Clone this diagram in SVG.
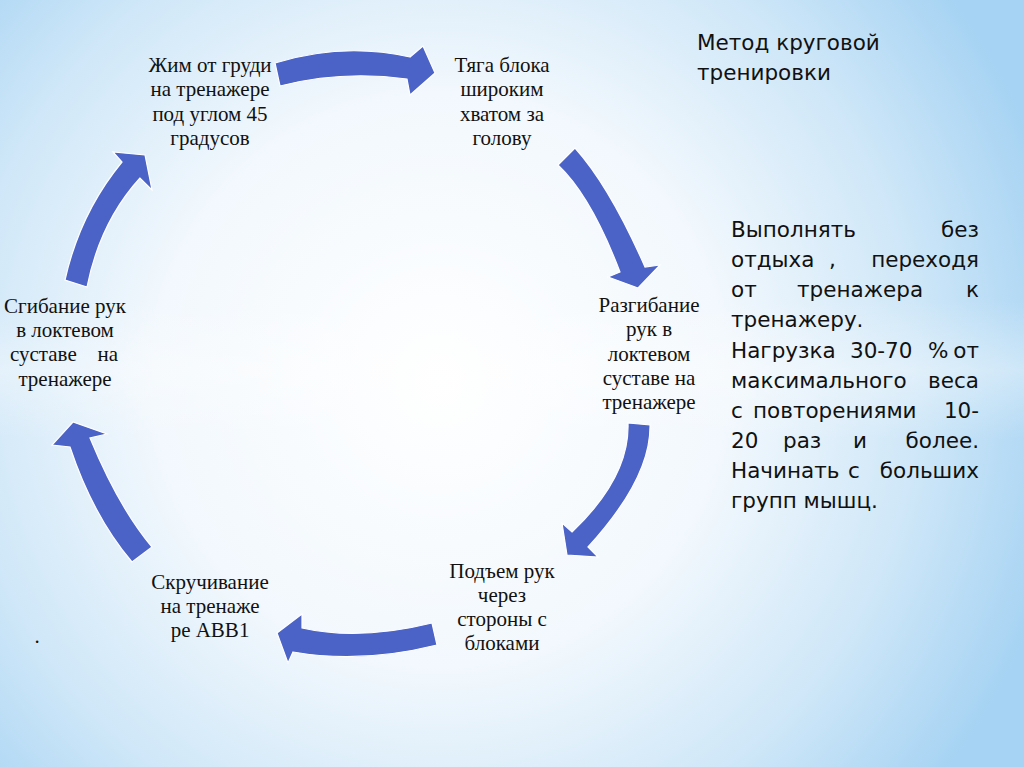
<svg xmlns="http://www.w3.org/2000/svg" width="1024" height="767" viewBox="0 0 1024 767">
<defs>
<radialGradient id="bg" cx="440" cy="380" r="640" gradientUnits="userSpaceOnUse">
<stop offset="0" stop-color="#ffffff"/>
<stop offset="0.45" stop-color="#f2f8fd"/>
<stop offset="0.75" stop-color="#cfe7f8"/>
<stop offset="1" stop-color="#a6d3f3"/>
</radialGradient>
<linearGradient id="band" x1="0" y1="0" x2="0" y2="1">
<stop offset="0" stop-color="#ffffff" stop-opacity="0"/>
<stop offset="0.5" stop-color="#ffffff" stop-opacity="0.35"/>
<stop offset="1" stop-color="#ffffff" stop-opacity="0"/>
</linearGradient>
<style>
.arr{fill:#4b62c6;stroke:#ffffff;stroke-width:1.2;stroke-linejoin:miter}
.n{font-family:"Liberation Serif","Times New Roman",serif;font-size:21px;fill:#111;text-anchor:middle}
.s{font-family:"DejaVu Sans","Noto Sans",sans-serif;font-size:21.5px;fill:#111}
.e{text-anchor:end}
</style>
</defs>
<rect width="1024" height="767" fill="url(#bg)"/>
<rect x="0" y="300" width="1024" height="140" fill="url(#band)"/>
<g id="connectors">
<path class="arr" d="M275,63 Q343,42 410,57 L423,46 L435,73 L410,95 L407,79 Q342,70 280,86 Z"/>
<path class="arr" d="M558,165 Q591,196 620,272 L608,277 L638,288 L660,265 L645,267 Q610,187 575,148 Z"/>
<path class="arr" d="M628,423 Q630,477 572,532 L562,523 L567,555 L598,557 L588,547 Q651,478 650,425 Z"/>
<path class="arr" d="M432,623 Q359,641 302,628 L302,614 L277,633 L288,663 L293,652 Q361,664 437,645 Z"/>
<path class="arr" d="M132,562 Q93,516 70,447 L52,445 L73,422 L107,434 L90,438 Q119,508 152,547 Z"/>
<path class="arr" d="M65,280 Q80,213 122,162 L113,152 L145,155 L152,190 L140,178 Q100,222 87,287 Z"/>
</g>
<g id="node1">
<text class="n" x="210" y="72">Жим от груди</text>
<text class="n" x="210" y="96">на тренажере</text>
<text class="n" x="210" y="121">под углом 45</text>
<text class="n" x="210" y="145">градусов</text>
</g>
<g id="node2">
<text class="n" x="502" y="72">Тяга блока</text>
<text class="n" x="502" y="96">широким</text>
<text class="n" x="502" y="121">хватом за</text>
<text class="n" x="502" y="145">голову</text>
</g>
<g id="node3">
<text class="n" x="649" y="312">Разгибание</text>
<text class="n" x="649" y="336">рук в</text>
<text class="n" x="649" y="361">локтевом</text>
<text class="n" x="649" y="385">суставе на</text>
<text class="n" x="649" y="409">тренажере</text>
</g>
<g id="node4">
<text class="n" x="502" y="578">Подъем рук</text>
<text class="n" x="502" y="602">через</text>
<text class="n" x="502" y="626">стороны с</text>
<text class="n" x="502" y="650">блоками</text>
</g>
<g id="node5">
<text class="n" x="210" y="589">Скручивание</text>
<text class="n" x="210" y="613">на тренаже</text>
<text class="n" x="210" y="637">ре АВВ1</text>
</g>
<g id="node6">
<text class="n" x="65" y="313">Сгибание рук</text>
<text class="n" x="65" y="337">в локтевом</text>
<text class="n" x="10" y="361" style="text-anchor:start">суставе</text>
<text class="n" x="118" y="361" style="text-anchor:end">на</text>
<text class="n" x="65" y="386">тренажере</text>
</g>
<text class="n" x="37" y="643">.</text>
<g id="title">
<text class="s" x="697" y="50" font-size="21.8">Метод круговой</text>
<text class="s" x="697" y="80" font-size="21.8">тренировки</text>
</g>
<g id="note">
<text class="s" x="731" y="237">Выполнять</text>
<text class="s e" x="979" y="237">без</text>
<text class="s" x="731" y="267">отдыха</text>
<text class="s" x="829" y="267">,</text>
<text class="s e" x="979" y="267">переходя</text>
<text class="s" x="731" y="297">от</text>
<text class="s" x="797" y="297">тренажера</text>
<text class="s e" x="979" y="297">к</text>
<text class="s" x="731" y="327">тренажеру.</text>
<text class="s" x="731" y="358">Нагрузка</text>
<text class="s" x="850" y="358">30-70</text>
<text class="s" x="928" y="358">%</text>
<text class="s e" x="979" y="358">от</text>
<text class="s" x="731" y="388">максимального</text>
<text class="s e" x="979" y="388">веса</text>
<text class="s" x="731" y="418">с</text>
<text class="s" x="753" y="418">повторениями</text>
<text class="s e" x="979" y="418">10-</text>
<text class="s" x="731" y="448">20</text>
<text class="s" x="783" y="448">раз</text>
<text class="s" x="853" y="448">и</text>
<text class="s e" x="979" y="448">более.</text>
<text class="s" x="731" y="478">Начинать</text>
<text class="s" x="848" y="478">с</text>
<text class="s e" x="979" y="478">больших</text>
<text class="s" x="731" y="508">групп мышц.</text>
</g>
</svg>
